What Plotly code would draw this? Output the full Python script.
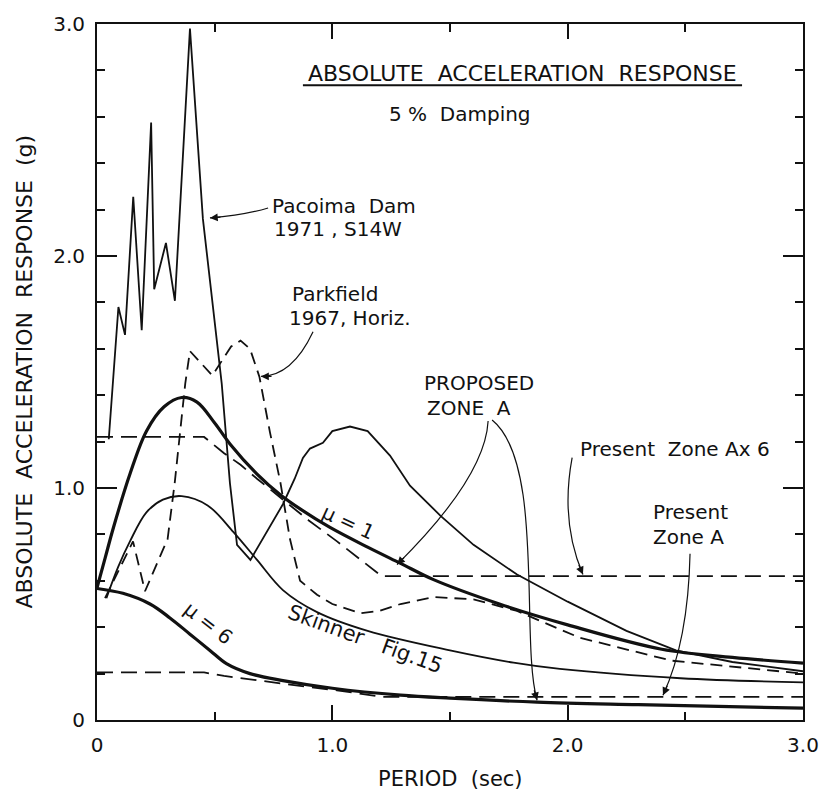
import plotly.graph_objects as go

# ---------------- data ----------------
pacoima_T = [0.05, 0.091, 0.119, 0.154, 0.19, 0.23, 0.243, 0.293, 0.331, 0.395, 0.45, 0.53, 0.565, 0.595,
             0.652, 0.72, 0.79, 0.84, 0.875, 0.905, 0.96, 1.0, 1.075, 1.15, 1.245, 1.33, 1.46, 1.60, 1.785,
             2.0, 2.14, 2.25, 2.46, 2.7, 3.0]
pacoima_A = [1.21, 1.78, 1.66, 2.255, 1.68, 2.575, 1.857, 2.056, 1.807, 2.98, 2.16, 1.45, 1.02, 0.755,
             0.69, 0.81, 0.93, 1.04, 1.13, 1.17, 1.195, 1.245, 1.265, 1.245, 1.14, 1.01, 0.88, 0.755, 0.627,
             0.51, 0.44, 0.384, 0.30, 0.25, 0.21]

parkfield_T = [0.034, 0.153, 0.204, 0.30, 0.33, 0.375, 0.395, 0.49, 0.57, 0.61, 0.65, 0.69, 0.735, 0.78,
               0.82, 0.863, 0.935, 1.0, 1.12, 1.2, 1.29, 1.43, 1.6, 1.785, 2.05, 2.44, 3.0]
parkfield_A = [0.525, 0.77, 0.555, 0.78, 1.02, 1.45, 1.59, 1.485, 1.61, 1.635, 1.60, 1.48, 1.24, 1.02,
               0.78, 0.60, 0.54, 0.50, 0.46, 0.47, 0.50, 0.53, 0.52, 0.47, 0.355, 0.256, 0.20]

mu1_T = [0.0, 0.035, 0.07, 0.14, 0.21, 0.285, 0.36, 0.425, 0.5, 0.565, 0.68, 0.78, 0.863, 0.99, 1.15,
         1.29, 1.43, 1.71, 2.0, 2.4, 2.7, 3.0]
mu1_A = [0.57, 0.70, 0.83, 1.06, 1.245, 1.35, 1.39, 1.37, 1.28, 1.19, 1.06, 0.97, 0.91, 0.83, 0.745,
         0.675, 0.605, 0.50, 0.41, 0.305, 0.27, 0.245]

mu6_T = [0.0, 0.11, 0.225, 0.31, 0.395, 0.48, 0.55, 0.65, 0.79, 1.0, 1.29, 1.5, 1.87, 2.3, 3.0]
mu6_A = [0.567, 0.546, 0.50, 0.44, 0.37, 0.30, 0.243, 0.20, 0.17, 0.137, 0.107, 0.094, 0.077, 0.066, 0.051]

skinner_T = [0.04, 0.09, 0.14, 0.21, 0.28, 0.36, 0.47, 0.58, 0.68, 0.79, 0.935, 1.15, 1.5, 1.77, 1.967,
             2.48, 3.0]
skinner_A = [0.525, 0.66, 0.77, 0.895, 0.95, 0.965, 0.925, 0.81, 0.69, 0.56, 0.465, 0.384, 0.30, 0.247,
             0.22, 0.18, 0.162]

zoneA6_T = [0.0, 0.455, 0.54, 0.61, 0.68, 0.78, 0.9, 1.02, 1.21, 3.0]
zoneA6_A = [1.22, 1.22, 1.15, 1.10, 1.04, 0.96, 0.86, 0.77, 0.62, 0.62]

zoneA_T = [0.0, 0.455, 0.54, 0.61, 0.68, 0.78, 0.9, 1.02, 1.21, 3.0]
zoneA_A = [0.205, 0.205, 0.19, 0.18, 0.17, 0.158, 0.142, 0.128, 0.10, 0.10]

x_tickvals = [0, 1, 2, 3]
x_ticktext = ["0", "1.0", "2.0", "3.0"]
y_tickvals = [0, 1, 2, 3]
y_ticktext = ["0", "1.0", "2.0", "3.0"]

FONT = "DejaVu Sans"
BLACK = "#111111"

fig = go.Figure()

def add_line(T, A, width, dash="solid", shape="linear"):
    fig.add_trace(go.Scatter(x=T, y=A, mode="lines", showlegend=False, hoverinfo="skip",
                             line=dict(color=BLACK, width=width, dash=dash, shape=shape)))

add_line(zoneA6_T, zoneA6_A, 1.8, dash="16px,8px")
add_line(zoneA_T, zoneA_A, 1.8, dash="16px,8px")
add_line(skinner_T, skinner_A, 1.8, shape="spline")
add_line(parkfield_T, parkfield_A, 1.8, dash="12px,7px")
add_line(pacoima_T, pacoima_A, 1.8)
add_line(mu1_T, mu1_A, 3.2, shape="spline")
add_line(mu6_T, mu6_A, 3.2, shape="spline")

annotations = []
def txt(x, y, s, size=20, anchor="center", angle=0):
    annotations.append(dict(x=x, y=y, xref="x", yref="y", text=s, showarrow=False,
                            xanchor=anchor, yanchor="middle", textangle=angle,
                            font=dict(family=FONT, size=size, color=BLACK)))

txt(1.810, 2.787, "ABSOLUTE  ACCELERATION  RESPONSE", size=22)
txt(1.543, 2.612, "5 %  Damping", size=20)
txt(0.735, 2.215, "Pacoima  Dam", anchor="left")
txt(0.744, 2.117, "1971 , S14W", anchor="left")
txt(0.820, 1.835, "Parkfield", anchor="left")
txt(0.807, 1.733, "1967, Horiz.", anchor="left")
txt(1.623, 1.451, "PROPOSED")
txt(1.581, 1.344, "ZONE  A")
txt(2.044, 1.169, "Present  Zone Ax 6", anchor="left")
txt(2.520, 0.896, "Present")
txt(2.512, 0.790, "Zone A")
txt(1.067, 0.854, "μ = 1", angle=25)
txt(0.472, 0.418, "μ = 6", angle=38)
txt(1.139, 0.350, "Skinner   Fig.15", angle=20, size=21)

# axis titles (paper coordinates, outside the plot area)
annotations.append(dict(x=0.5, y=-0.085, xref="paper", yref="paper", text="PERIOD  (sec)", showarrow=False,
                        xanchor="center", yanchor="middle",
                        font=dict(family=FONT, size=21, color=BLACK)))
annotations.append(dict(x=-0.104, y=0.5, xref="paper", yref="paper", text="ABSOLUTE  ACCELERATION  RESPONSE  (g)",
                        showarrow=False, textangle=-90, xanchor="center", yanchor="middle",
                        font=dict(family=FONT, size=22, color=BLACK)))

shapes = []
# underline of title
shapes.append(dict(type="line", xref="x", yref="y", x0=0.875, x1=2.741, y0=2.736, y1=2.736,
                   line=dict(color=BLACK, width=1.8)))

# curved leader arrows (quadratic / cubic paths) + arrowheads
def qpath(p0, c, p1):
    return f"M {p0[0]},{p0[1]} Q {c[0]},{c[1]} {p1[0]},{p1[1]}"

def cpath(p0, c1, c2, p1):
    return f"M {p0[0]},{p0[1]} C {c1[0]},{c1[1]} {c2[0]},{c2[1]} {p1[0]},{p1[1]}"

leaders = [
    (qpath((0.727, 2.207), (0.629, 2.177), (0.480, 2.164)), (0.480, 2.164), 12, -1),
    (qpath((0.918, 1.673), (0.829, 1.481), (0.697, 1.481)), (0.697, 1.481), 12, 0),
    (qpath((1.662, 1.289), (1.649, 1.046), (1.275, 0.670)), (1.275, 0.670), 8.5, -8.5),
    (cpath((1.679, 1.293), (1.904, 1.110), (1.798, 0.341), (1.870, 0.085)), (1.870, 0.085), -3.3, -11.5),
    (qpath((2.019, 1.131), (1.968, 0.854), (2.065, 0.627)), (2.065, 0.627), -4.8, -11),
    (qpath((2.520, 0.717), (2.512, 0.341), (2.405, 0.107)), (2.405, 0.107), 5, -11),
]
for path, tip, ax, ay in leaders:
    shapes.append(dict(type="path", xref="x", yref="y", path=path, line=dict(color=BLACK, width=1.2)))
    annotations.append(dict(x=tip[0], y=tip[1], xref="x", yref="y", ax=ax, ay=ay, text="",
                            showarrow=True, arrowhead=2, arrowsize=1.3, arrowwidth=1.2,
                            arrowcolor=BLACK, standoff=0))

axis_common = dict(range=[0, 3], showgrid=False, zeroline=False, showline=True, linecolor=BLACK,
                   linewidth=2, mirror="allticks", ticks="inside", tickcolor=BLACK, tickwidth=1.5,
                   tickfont=dict(family=FONT, size=20, color=BLACK), ticklabelstandoff=6)

fig.update_layout(
    width=832, height=796,
    margin=dict(l=97, r=29, t=17, b=76),
    paper_bgcolor="white", plot_bgcolor="white",
    xaxis=dict(**axis_common, tickvals=x_tickvals, ticktext=x_ticktext, ticklen=15,
               minor=dict(dtick=0.5, ticklen=8, ticks="inside", tickcolor=BLACK, tickwidth=1.5)),
    yaxis=dict(**axis_common, tickvals=y_tickvals, ticktext=y_ticktext, ticklen=20,
               minor=dict(dtick=0.2, ticklen=8, ticks="inside", tickcolor=BLACK, tickwidth=1.5)),
    annotations=annotations, shapes=shapes,
)

fig.write_html("out.html", config={"displayModeBar": False},
               post_script="document.body.style.margin='0';document.body.style.overflow='hidden';")
